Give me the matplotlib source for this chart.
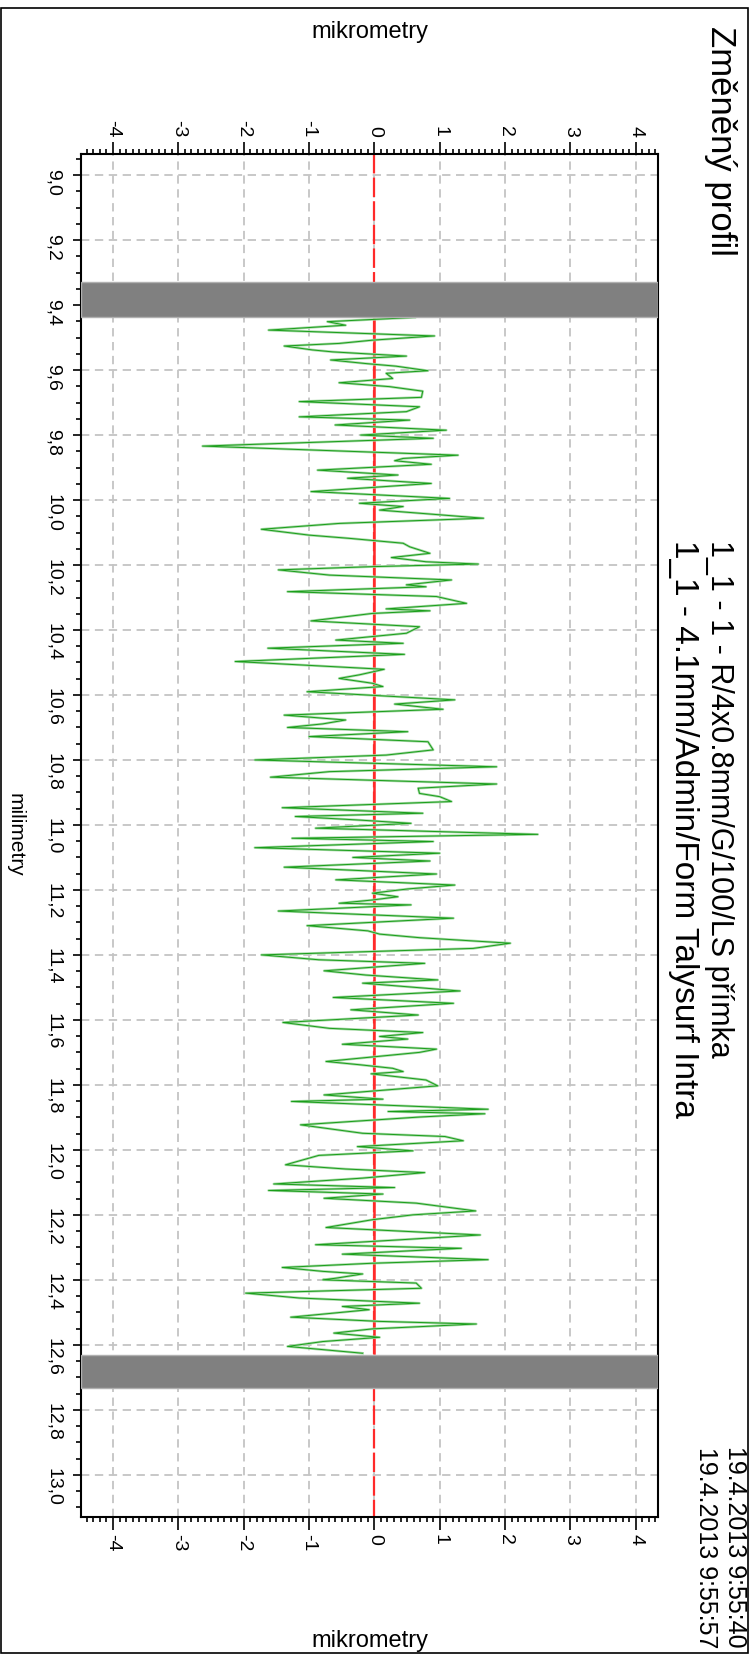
import matplotlib
matplotlib.use('Agg')
import matplotlib.pyplot as plt
from matplotlib.ticker import MultipleLocator, FuncFormatter
from matplotlib.patches import Rectangle

plt.rcParams['font.family'] = ['Liberation Sans', 'DejaVu Sans']
plt.rcParams['lines.scale_dashes'] = False

# ---- data (position in mm, deviation in micrometres) ----
pos_mm = [
    9.438, 9.451, 9.462, 9.477, 9.495, 9.508, 9.518, 9.526, 9.538, 9.544,
    9.557, 9.569, 9.580, 9.588, 9.602, 9.610, 9.626, 9.639, 9.651, 9.665,
    9.684, 9.697, 9.713, 9.728, 9.744, 9.754, 9.769, 9.785, 9.800, 9.810,
    9.834, 9.862, 9.872, 9.879, 9.890, 9.908, 9.923, 9.933, 9.949,
    9.974, 9.995, 10.010, 10.020, 10.031, 10.056, 10.072, 10.090, 10.108, 10.118,
    10.133, 10.144, 10.164, 10.177, 10.190, 10.197, 10.205, 10.215, 10.231, 10.246,
    10.261, 10.267, 10.282, 10.297, 10.318, 10.335, 10.341, 10.349, 10.372, 10.390,
    10.410, 10.420, 10.431, 10.441, 10.456, 10.475, 10.497,
    10.521, 10.538, 10.549, 10.564, 10.574, 10.590, 10.615, 10.628, 10.644, 10.662,
    10.677, 10.689, 10.700, 10.713, 10.728, 10.744, 10.769, 10.785, 10.800, 10.821,
    10.836, 10.853, 10.874, 10.887, 10.903, 10.913, 10.928, 10.947, 10.964, 10.974,
    10.985, 10.995, 11.010, 11.029,
    11.041, 11.051, 11.070, 11.087, 11.100, 11.111, 11.130, 11.144, 11.151, 11.169,
    11.185, 11.197, 11.210, 11.221, 11.231, 11.241, 11.246, 11.265, 11.287, 11.310,
    11.326, 11.336, 11.347, 11.364, 11.380, 11.400, 11.415, 11.426, 11.449, 11.462,
    11.477, 11.487, 11.511, 11.531, 11.549, 11.569,
    11.585, 11.608, 11.626, 11.639, 11.651, 11.659, 11.675, 11.690, 11.700, 11.728,
    11.738, 11.749, 11.759, 11.766, 11.785, 11.803, 11.815, 11.831, 11.844, 11.851,
    11.875, 11.882, 11.889, 11.899, 11.923, 11.949, 11.959, 11.972, 11.990, 12.003,
    12.017, 12.046, 12.059, 12.070, 12.087, 12.105,
    12.116, 12.125, 12.136, 12.149, 12.164, 12.188, 12.200, 12.215, 12.239, 12.262,
    12.277, 12.292, 12.303, 12.321, 12.338, 12.349, 12.362, 12.374, 12.382, 12.395,
    12.400, 12.410, 12.426, 12.441, 12.456, 12.472, 12.482, 12.492, 12.515, 12.528,
    12.536, 12.551, 12.564, 12.577, 12.590, 12.605, 12.615, 12.626,
]
dev_um = [
    0.62, -0.72, -0.44, -1.62, 0.92, -0.03, -0.54, -1.38, -0.95, -0.64,
    0.49, -0.67, -0.13, 0.33, 0.82, 0.18, 0.28, -0.54, 0.23, 0.74,
    0.72, -1.15, 0.69, 0.49, -1.15, 0.54, -0.60, 1.10, -0.21, 0.90,
    -2.63, 1.28, 0.44, 0.31, 0.87, -0.87, 0.36, -0.41, 0.87,
    -0.97, 1.15, -0.23, 0.44, 0.08, 1.67, -0.54, -1.73, -1.00, -0.38,
    0.44, 0.54, 0.85, 0.26, 0.79, 1.59, -0.03, -1.47, -0.69, 1.18,
    0.49, 0.79, -1.33, 0.95, 1.41, 0.18, 0.85, -0.03, -0.97, 0.69,
    0.49, -0.03, -0.59, 0.44, -1.63, 0.46, -2.13,
    0.15, -0.23, -0.54, -0.03, 0.13, -1.03, 1.23, 0.31, 1.05, -1.38,
    -0.44, -0.79, -1.33, 0.51, -1.00, 0.82, 0.90, 0.18, -1.83, 1.87,
    -0.69, -1.59, 1.87, 0.67, 0.69, 1.00, 1.18, -1.41, 0.74, -1.21,
    -0.23, 0.56, -0.90, 2.50,
    -1.26, 0.90, -1.83, 1.00, -0.33, 0.85, -1.38, 0.18, 0.95, -0.59,
    1.23, 0.51, -0.03, 0.36, -0.03, -0.54, 0.56, -1.47, 1.21, -1.03,
    -0.10, 0.08, 0.69, 2.08, 1.51, -1.73, -0.85, 0.77, -0.77, -0.13,
    0.97, -0.18, 1.31, -0.63, 1.21, -0.36,
    0.67, -1.40, -0.69, 0.74, 0.08, 0.51, -0.49, 0.95, 0.69, -0.74,
    -0.23, 0.28, 0.44, -0.05, 0.79, 0.97, 0.23, -0.77, 0.13, -1.27,
    1.74, 0.21, 1.69, 0.69, -1.13, -0.18, 1.08, 1.36, -0.26, 0.59,
    -0.85, -1.36, -0.44, 0.77, -0.18, -1.54,
    0.31, -1.62, 0.13, -0.77, 0.64, 1.55, 0.59, -0.03, -0.74, 1.62,
    0.38, -0.90, 1.33, -0.49, 1.74, -0.03, -1.41, -0.79, -0.18, -0.59,
    -0.79, 0.64, 0.72, -1.97, -1.15, 0.69, -0.49, -0.08, -1.28, 0.08,
    1.56, -0.03, -0.62, 0.08, -0.79, -1.33, -0.79, -0.18,
]
excluded_bands = [(9.329, 9.437), (12.630, 12.733)]
x_range_mm = (8.935, 13.13)
y_range_um = (-4.49, 4.34)

W, H = 750, 1655
fig = plt.figure(figsize=(W / 100, H / 100), dpi=100)
fig.patch.set_facecolor('white')

def fx(px):
    return px / W

def fy(py):
    return 1 - py / H

ax = fig.add_axes([fx(81), fy(1517), (658 - 81) / W, (1517 - 154) / H])
ax.set_xlim(*y_range_um)
ax.set_ylim(x_range_mm[1], x_range_mm[0])

# grid
ax.grid(True, which='major', color='#c4c4c4', linewidth=1.3, dashes=(6, 4))
ax.set_axisbelow(True)

# mean line
ax.plot([0, 0], [x_range_mm[0], x_range_mm[1]], color='#ff2a2a', linewidth=1.6,
        dashes=(14, 3), zorder=2)
ax.plot([0, 0], [pos_mm[0], pos_mm[-1]], color='#ff2a2a', linewidth=1.8, zorder=2.5)

# profile
ax.plot(dev_um, pos_mm, color='#a6d9a6', linewidth=1.8, zorder=3)
ax.plot(dev_um, pos_mm, color='#1a9e1a', linewidth=0.7, zorder=3.1)

# excluded bands
for b0, b1 in excluded_bands:
    ax.axhspan(b0, b1, facecolor='#808080', edgecolor='#b0b0b0', linewidth=1, zorder=4)

# ticks
ax.xaxis.set_major_locator(MultipleLocator(1))
ax.xaxis.set_minor_locator(MultipleLocator(0.1))
ax.yaxis.set_major_locator(MultipleLocator(0.2))
ax.yaxis.set_minor_locator(MultipleLocator(0.05))
ax.xaxis.set_major_formatter(FuncFormatter(lambda v, p: f"{v:.0f}"))
ax.yaxis.set_major_formatter(FuncFormatter(lambda v, p: f"{v:.1f}".replace('.', ',')))
ax.tick_params(axis='x', which='both', top=True, bottom=True, labeltop=True,
               labelbottom=True, direction='out', width=1.2, labelrotation=-90,
               labelsize=14, pad=3)
ax.tick_params(axis='x', which='major', length=9)
ax.tick_params(axis='x', which='minor', length=3.5)
ax.tick_params(axis='y', which='both', left=True, right=False, direction='out',
               width=1.2, labelrotation=-90, labelsize=14, pad=8)
ax.tick_params(axis='y', which='major', length=6)
ax.tick_params(axis='y', which='minor', length=3.5)
for s in ax.spines.values():
    s.set_linewidth(1.5)

# labels
fig.text(fx(369.5), fy(32), 'mikrometry', ha='center', va='center', fontsize=17)
fig.text(fx(369.5), fy(1641), 'mikrometry', ha='center', va='center', fontsize=17)
fig.text(fx(15), fy(835), 'milimetry', ha='center', va='center', rotation=-90, fontsize=15)

fig.text(fx(721), fy(26), 'Změněný profil', ha='center', va='top', rotation=-90, fontsize=25)
fig.text(fx(719), fy(540), '1_1 - 1 - R/4x0.8mm/G/100/LS přímka', ha='center', va='top',
         rotation=-90, fontsize=22)
fig.text(fx(683), fy(540), '1_1 - 4.1mm/Admin/Form Talysurf Intra', ha='center', va='top',
         rotation=-90, fontsize=24)
fig.text(fx(706), fy(1648), '19.4.2013 9:55:57', ha='center', va='bottom',
         rotation=-90, fontsize=18)
fig.text(fx(735), fy(1648), '19.4.2013 9:55:40', ha='center', va='bottom',
         rotation=-90, fontsize=18)

# outer frame
fig.add_artist(Rectangle((fx(1), fy(1653)), (748 - 1) / W, (1653 - 8) / H,
                         transform=fig.transFigure, fill=False, edgecolor='black',
                         linewidth=1.2))

fig.savefig('out.png', dpi=100)
